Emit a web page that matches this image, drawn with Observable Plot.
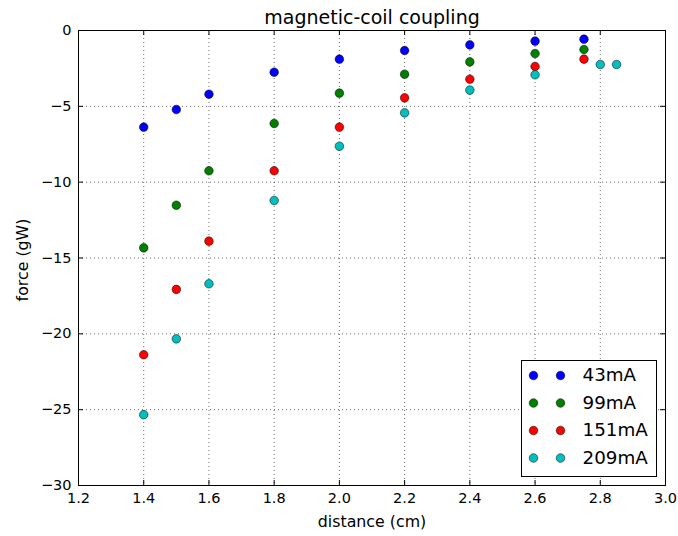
<!DOCTYPE html>
<html>
<head>
<meta charset="utf-8">
<script src="https://cdn.jsdelivr.net/npm/d3@7"></script>
<script src="https://cdn.jsdelivr.net/npm/@observablehq/plot@0.6"></script>
<style>
  html, body { margin: 0; padding: 0; background: #fff; }
  #chart { width: 678px; height: 536px; }
</style>
</head>
<body>
<div id="chart"></div>
<script>
// ---- data ----
const seriesNames = ["43mA", "99mA", "151mA", "209mA"];
const seriesColors = ["#0000ff", "#008000", "#ff0000", "#00bfbf"];

const dist43 = [1.4, 1.5, 1.6, 1.8, 2.0, 2.2, 2.4, 2.6, 2.75];
const force43 = [-6.37, -5.21, -4.20, -2.75, -1.89, -1.32, -0.95, -0.70, -0.57];

const dist99 = [1.4, 1.5, 1.6, 1.8, 2.0, 2.2, 2.4, 2.6, 2.75];
const force99 = [-14.33, -11.52, -9.25, -6.13, -4.13, -2.88, -2.07, -1.52, -1.25];

const dist151 = [1.4, 1.5, 1.6, 1.8, 2.0, 2.2, 2.4, 2.6, 2.75];
const force151 = [-21.38, -17.07, -13.89, -9.25, -6.37, -4.44, -3.21, -2.37, -1.89];

const dist209 = [1.4, 1.5, 1.6, 1.8, 2.0, 2.2, 2.4, 2.6, 2.8, 2.85];
const force209 = [-25.33, -20.33, -16.70, -11.21, -7.63, -5.43, -3.93, -2.92, -2.24, -2.24];

const xTicks = [1.2, 1.4, 1.6, 1.8, 2.0, 2.2, 2.4, 2.6, 2.8, 3.0];
const yTicks = [-30, -25, -20, -15, -10, -5, 0];

const titleText = "magnetic-coil coupling";
const xLabel = "distance (cm)";
const yLabel = "force (gW)";

// ---- build table ----
const distances = [dist43, dist99, dist151, dist209];
const forces = [force43, force99, force151, force209];
const rows = [];
seriesNames.forEach((name, i) => {
  distances[i].forEach((d, j) => rows.push({series: name, distance: d, force: forces[i][j]}));
});

// ---- layout ----
const W = 678, H = 536;
const mTop = 30, mLeft = 78, mRight = 13, mBottom = 51;
const innerW = W - mLeft - mRight, innerH = H - mTop - mBottom;
const tickLen = 5;
const R = 4.3;

const legendRowDy = [-110, -82.5, -55, -27.5];
const legendMarks = [];
seriesNames.forEach((name, i) => {
  for (const dx of [-132, -105]) {
    legendMarks.push(Plot.dot([name], {frameAnchor: "bottom-right", dx, dy: legendRowDy[i],
      r: R, fill: seriesColors[i], stroke: "black", strokeWidth: 0.5}));
  }
  legendMarks.push(Plot.text([name], {frameAnchor: "bottom-right", dx: -83, dy: legendRowDy[i],
    text: d => d, textAnchor: "start", lineAnchor: "middle", fontSize: 18.3, fill: "black"}));
});

const chart = Plot.plot({
  width: W, height: H,
  marginTop: mTop, marginLeft: mLeft, marginRight: mRight, marginBottom: mBottom,
  style: {fontFamily: "'DejaVu Sans', sans-serif", fontSize: "14.5px", color: "black", background: "white"},
  x: {domain: [1.2, 3.0]},
  y: {domain: [-30, 0]},
  color: {domain: seriesNames, range: seriesColors},
  marks: [
    Plot.gridX(xTicks, {stroke: "black", strokeOpacity: 1, strokeWidth: 0.6, strokeDasharray: "1,3"}),
    Plot.gridY(yTicks, {stroke: "black", strokeOpacity: 1, strokeWidth: 0.6, strokeDasharray: "1,3"}),
    // inward ticks on all four sides
    Plot.ruleX(xTicks, {x: d => d, insetTop: innerH - tickLen, stroke: "black"}),
    Plot.ruleX(xTicks, {x: d => d, insetBottom: innerH - tickLen, stroke: "black"}),
    Plot.ruleY(yTicks, {y: d => d, insetRight: innerW - tickLen, stroke: "black"}),
    Plot.ruleY(yTicks, {y: d => d, insetLeft: innerW - tickLen, stroke: "black"}),
    Plot.axisX(xTicks, {tickSize: 0, tickPadding: 7, tickFormat: d3.format(".1f"), label: null, fill: "black"}),
    Plot.axisY(yTicks, {tickSize: 0, tickPadding: 7, tickFormat: d => d === 0 ? "0" : "\u2212" + Math.abs(d), label: null, fill: "black"}),
    Plot.dot(rows, {x: "distance", y: "force", fill: "series", r: R, stroke: "black", strokeWidth: 0.5}),
    Plot.frame({stroke: "black", strokeWidth: 1}),
    // legend
    Plot.frame({insetLeft: 443, insetTop: 330, insetRight: 9, insetBottom: 9, fill: "white", stroke: "black", strokeWidth: 1}),
    ...legendMarks,
    // title and axis labels
    Plot.text([titleText], {frameAnchor: "top", dy: -13, lineAnchor: "middle", text: d => d, fontSize: 19, fill: "black"}),
    Plot.text([xLabel], {frameAnchor: "bottom", dy: 36, lineAnchor: "middle", text: d => d, fontSize: 15.8, fill: "black"}),
    Plot.text([yLabel], {frameAnchor: "left", dx: -56, dy: 2, rotate: -90, textAnchor: "middle", lineAnchor: "middle", text: d => d, fontSize: 15.8, fill: "black"})
  ]
});
document.getElementById("chart").appendChild(chart);
</script>
</body>
</html>
